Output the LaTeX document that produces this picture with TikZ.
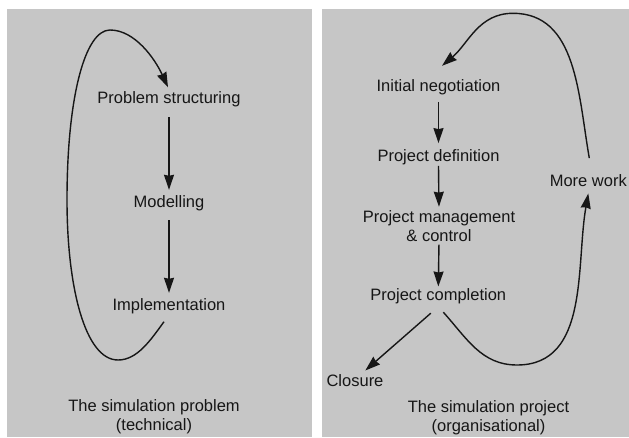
\documentclass[tikz,border=0pt]{standalone}
\usepackage{fontspec}
\setmainfont{Liberation Sans}
\usetikzlibrary{arrows.meta}
\definecolor{panelgray}{RGB}{198,198,198}
\definecolor{ink}{RGB}{22,22,22}
\begin{document}
\begin{tikzpicture}[x=1pt,y=1pt,
  lbl/.style={font=\fontsize{16.5}{19.5}\selectfont, text=ink, inner sep=0pt,
              text height=12pt, text depth=4pt, anchor=base},
  lbltwo/.style={font=\fontsize{16.5}{19.5}\selectfont, text=ink, inner sep=0pt,
              align=center, anchor=north},
  panel/.style={fill=panelgray, draw=none},
  arr/.style={draw=ink, line width=1.4pt, -{Stealth[length=15pt,width=10pt,inset=1pt]}}
]
\useasboundingbox (0,0) rectangle (629,437);
\fill[white] (0,0) rectangle (629,437);
\path[panel] (6.5,0) rectangle (312,428);
\path[panel] (322,0) rectangle (629,428);

% left panel
\node[lbl] (ps)   at (169,333.5) {Problem structuring};
\node[lbl] (mod)  at (169,229.5) {Modelling};
\node[lbl] (impl) at (169,126.5) {Implementation};
\node[lbltwo] (cap1) at (154,37.8) {The simulation problem\\(technical)};

\draw[arr, shorten <=9.5pt, shorten >=5.5pt] (ps.south) -- (mod.north);
\draw[arr, shorten <=8.5pt, shorten >=5.5pt] (mod.south) -- (impl.north);
\draw[arr] ([xshift=-5pt,yshift=-7pt]impl.south)
   .. controls (150,96) and (137,77) .. (118,77)
   .. controls (85,77) and (67,150) .. (67,237)
   .. controls (67,340) and (85,407) .. (110,407)
   .. controls (135,407) and (155,378) .. ([xshift=-1pt,yshift=4pt]ps.north);

% right panel
\node[lbl] (ini)  at (438.5,345.3) {Initial negotiation};
\node[lbl] (pdef) at (438.5,275.3) {Project definition};
\node[lbltwo] (pm) at (439,227.1) {Project management\\\& control};
\node[lbl] (pc)   at (438.3,137) {Project completion};
\node[lbl] (mw)   at (588.3,250) {More work};
\node[lbl] (cl)   at (355,51) {Closure};
\node[lbltwo] (cap2) at (488.5,36.8) {The simulation project\\(organisational)};

\draw[arr, shorten <=6pt, shorten >=6.4pt] (ini.south) -- (pdef.north);
\draw[arr, shorten <=0pt, shorten >=3.2pt] (pdef.south) -- (pm.north);
\draw[arr, shorten <=2.8pt, shorten >=1.3pt] (pm.south) -- (pc.north);
\draw[arr] ([xshift=-7.5pt,yshift=-9pt]pc.south) -- ([xshift=10.3pt,yshift=3.3pt]cl.north);
\draw[arr] ([xshift=5pt,yshift=-8pt]pc.south) to[out=-48,in=180] (517,72)
   to[out=0,in=-100] ([yshift=-2.3pt]mw.south);
\draw[arr] ([xshift=1pt,yshift=16.7pt]mw.north) to[out=100,in=0] (513,423.7)
   to[out=180,in=40] ([xshift=3.5pt,yshift=13.7pt]ini.north);
\end{tikzpicture}
\end{document}
